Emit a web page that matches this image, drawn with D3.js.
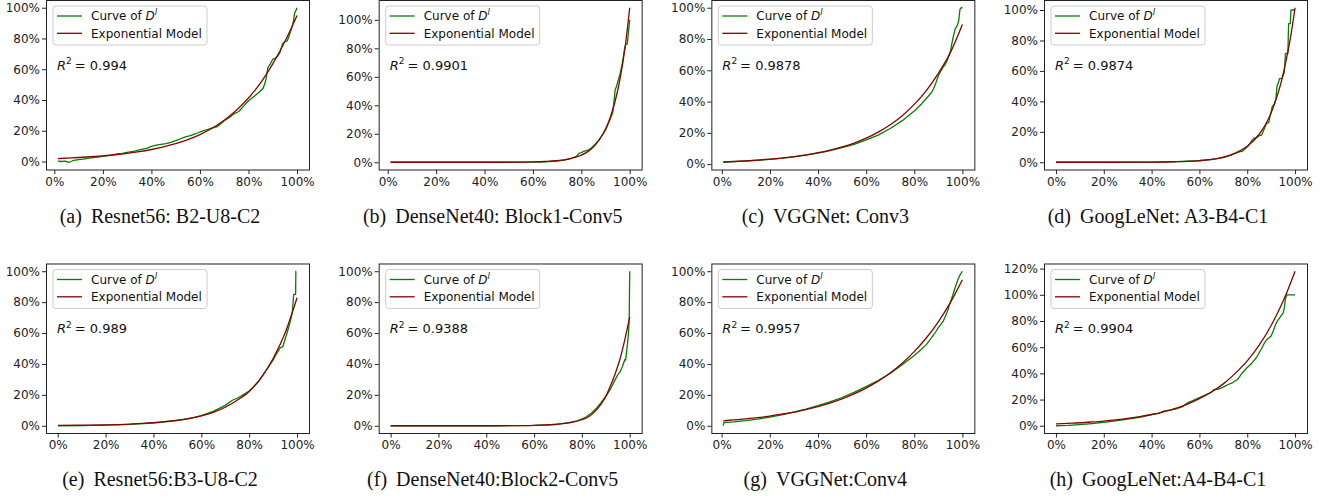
<!DOCTYPE html>
<html>
  <head>
    <meta charset="utf-8">
    <script src="https://cdn.jsdelivr.net/npm/d3@7"></script>
    <title>Curves of D^l and exponential models</title>
    <style>
      html, body {
        margin: 0px;
        padding: 0px;
        overflow: hidden;
        background: #ffffff;
      }
      svg {
        display: block;
      }
      .domain {
        display: none;
      }
      .tick line {
        stroke: #222222;
        stroke-width: 1;
      }
      .tick text {
        fill: #222222;
        font-size: 12px;
        font-family: 'DejaVu Sans', sans-serif;
      }
      .legend-text, .r2-text {
        fill: #111111;
        font-family: 'DejaVu Sans', sans-serif;
      }
      .caption {
        fill: #111111;
        font-size: 20px;
        font-family: 'Liberation Serif', 'Times New Roman', serif;
      }
    </style>
  </head>
  <body>
    <svg width="1327" height="497"></svg>
    <script>
      // [x %, y %]
      const greenA = [[1.5,0.3],[3,0],[4.5,0.2],[6,-0.5],[7,0],[8,0.8],[10,1.2],[12,1.6],[15,2.3],[18,2.9],[20,3.4],[23,4.0],[26,4.9],[28,5.3],[30,5.9],[33,6.8],[36,7.9],[38,8.6],[40,9.8],[42,10.6],[44,11.2],[46,11.6],[48,12.5],[50,13.6],[52,14.8],[54,16.0],[56,16.9],[58,17.9],[60,19.2],[62,20.3],[64,21.3],[66,22.2],[67,22.6],[68,23.8],[70,26.5],[72,28.5],[74,31.0],[76,32.5],[78,36.0],[80,39.5],[82,42.0],[84,44.5],[86,47.5],[87,52.0],[88,61.0],[89,63.5],[90,66.5],[91,67.0],[92,68.5],[93,71.0],[94,76.5],[95,78.0],[96,78.5],[97,83.0],[98,88.0],[98.5,91],[99,96.5],[99.5,98],[100,100]];
      const modelA = [[1.5,1.9],[5,2.2],[10,2.6],[15,3.1],[20,3.7],[25,4.4],[30,5.3],[35,6.4],[40,7.8],[45,9.5],[50,11.6],[55,14.2],[60,17.5],[65,21.6],[70,26.8],[75,33.3],[80,41.3],[85,51.2],[90,63.5],[95,78],[100,95]];

      const greenB = [[1.2,0],[10,0],[20,0],[30,0],[40,0],[50,0],[55,0.05],[60,0.1],[65,0.3],[70,0.9],[73,1.5],[76,2.8],[78,4.2],[79,6.3],[80,6.8],[81,7.6],[82,8.2],[83,8.8],[84,9.8],[85,11.5],[86,13.3],[87,15.2],[88,17.5],[89,20.0],[90,22.5],[91,26.5],[92,30.5],[93,35.0],[93.7,46],[94,51],[94.5,53],[95,56],[95.5,59],[96,62],[97,70],[98,81],[98.5,83],[99,83],[99.5,92],[100,100]];
      const modelB = [[1.2,0],[10,0],[20,0],[30,0],[40,0],[50,0.05],[55,0.1],[60,0.25],[65,0.55],[70,1.1],[75,2.4],[78,3.8],[80,5.0],[82,6.8],[84,9.2],[86,12.6],[88,17.2],[90,23.3],[92,31.7],[94,43],[96,58.5],[98,79.5],[100,108.5]];

      const greenC = [[0.6,1.2],[5,1.6],[10,2.0],[15,2.5],[20,3.1],[25,3.8],[30,4.7],[35,5.8],[40,7.1],[45,8.7],[50,10.6],[55,12.7],[60,15.5],[65,18.6],[70,22.8],[75,27.8],[80,34.0],[83,38.5],[85,42.0],[87,45.5],[88,48.0],[89,52.0],[90,56.5],[91,59.5],[92,62.0],[93,64.0],[94,67.5],[95,72.0],[96,80.0],[97,86.5],[98,89.0],[98.5,92],[99,99],[99.5,100],[100,100]];
      const modelC = [[0.6,1.4],[5,1.7],[10,2.1],[15,2.6],[20,3.2],[25,3.9],[30,4.8],[35,5.9],[40,7.3],[45,9.0],[50,11.0],[55,13.5],[60,16.6],[65,20.5],[70,25.2],[75,31.0],[80,38.2],[85,47.0],[90,58.0],[95,71.3],[100,89.3]];

      const greenD = [[0,0],[10,0],[20,0],[30,0],[40,0.1],[50,0.4],[55,0.7],[60,1.0],[65,1.8],[70,3.0],[73,4.5],[75,5.8],[77,7.0],[78,7.2],[79,8.8],[80,10.0],[81,12.0],[82,14.5],[83,16.0],[84,16.2],[85,17.5],[86,17.8],[87,21.5],[88,25.5],[89,26.0],[89.5,30],[90,33.0],[90.5,37],[91,37.5],[91.5,39],[92,42],[92.5,50.5],[93,52],[93.5,55],[94.5,55],[95,57],[95.5,59],[96,71.5],[97,71.5],[97.3,91],[98,91],[98.3,100],[100,100]];
      const modelD = [[0,0],[10,0.01],[20,0.02],[30,0.04],[40,0.11],[50,0.35],[55,0.6],[60,1.1],[65,1.9],[70,3.4],[75,6.0],[80,10.5],[85,18.4],[88,25.8],[90,32.6],[92,41],[94,51.5],[96,65],[98,81],[100,101.5]];

      const greenE = [[0.1,0],[10,0.1],[20,0.4],[30,0.9],[40,1.8],[50,3.4],[55,4.7],[60,6.6],[65,9.3],[70,13.2],[73,16.5],[75,17.8],[78,20.5],[80,22.5],[82,25.5],[84,29.0],[86,33.5],[88,38.0],[90,42.5],[91,45.5],[92,48.0],[93,50.5],[94,51.0],[95,56.0],[96,61.0],[97,66.5],[98,73.0],[98.6,85],[99.4,85],[99.5,100],[99.6,100]];
      const modelE = [[0.1,0.2],[10,0.35],[20,0.6],[30,1.1],[40,2.0],[50,3.6],[55,4.8],[60,6.4],[65,8.7],[70,12.0],[75,16.5],[80,22.2],[85,31],[90,43.5],[95,60],[100,82.8]];

      const greenF = [[0,0],[10,0],[20,0],[30,0],[40,0],[50,0.05],[60,0.2],[65,0.5],[70,1.0],[75,2.0],[78,3.2],[80,4.4],[82,6.0],[84,8.3],[86,11.2],[88,15.0],[90,19.0],[91,21.5],[92,24.0],[93,27.0],[94,30.0],[95,33.0],[96,35.0],[97,38.5],[98,43.0],[98.3,42.5],[99,52],[99.5,60],[99.8,70],[100,100]];
      const modelF = [[0,0],[10,0],[20,0],[30,0],[40,0.01],[50,0.05],[55,0.1],[60,0.25],[65,0.55],[70,1.1],[75,2.1],[80,3.9],[83,6.0],[85,8.5],[88,14.0],[90,19.0],[92,26.0],[94,34.0],[96,43.5],[98,56],[100,70.5]];

      const greenG = [[0.7,0],[0.8,1.5],[1,2.0],[5,2.5],[10,3.3],[15,4.3],[20,5.6],[25,7.1],[30,8.8],[35,10.8],[40,13.0],[45,15.5],[50,18.3],[55,21.6],[60,25.3],[65,29.3],[70,33.8],[75,39.5],[80,45.5],[83,49.5],[85,52.5],[87,56.5],[89,61.0],[90,63.5],[91,65.5],[92,67.5],[93,71.0],[94,75.0],[95,80.0],[96,84.5],[97,89.5],[98,94.0],[99,97.5],[100,100]];
      const modelG = [[0.7,3.2],[5,3.8],[10,4.5],[15,5.3],[20,6.3],[25,7.5],[30,8.8],[35,10.5],[40,12.4],[45,14.7],[50,17.4],[55,20.6],[60,24.4],[65,28.9],[70,34.2],[75,40.5],[80,48.0],[85,56.8],[90,67.3],[95,79.7],[100,94.5]];

      const greenH = [[0,0],[5,0.3],[10,0.9],[15,1.7],[20,2.6],[25,3.7],[30,5.0],[33,5.8],[36,6.8],[40,8.6],[43,9.5],[45,11.2],[48,12.2],[50,12.8],[53,14.6],[55,17.5],[57,19.0],[60,21.5],[63,24.0],[65,25.5],[66,27.5],[68,28.0],[70,29.5],[72,31.5],[74,33.0],[76,35.5],[78,40.5],[80,44.5],[82,48.0],[84,52.5],[86,59.0],[87,62.5],[88,65.5],[89,67.0],[90,68.5],[91,73.0],[92,78.0],[93,81.0],[94,83.5],[95,86.0],[95.5,90],[96,97],[96.5,100],[100,100]];
      const modelH = [[0,1.5],[5,1.9],[10,2.3],[15,2.9],[20,3.6],[25,4.5],[30,5.6],[35,7.0],[40,8.6],[45,10.7],[50,13.3],[55,16.6],[60,20.7],[65,25.8],[70,32],[75,40],[80,49.5],[85,61.5],[90,76.6],[95,95],[100,118]];

      const greenCurves = [greenA, greenB, greenC, greenD, greenE, greenF, greenG, greenH];
      const modelCurves = [modelA, modelB, modelC, modelD, modelE, modelF, modelG, modelH];
      const r2Values = ['0.994', '0.9901', '0.9878', '0.9874', '0.989', '0.9388', '0.9957', '0.9904'];
      const captionTags = ['(a)', '(b)', '(c)', '(d)', '(e)', '(f)', '(g)', '(h)'];
      const captionNames = [
        'Resnet56: B2-U8-C2', 'DenseNet40: Block1-Conv5', 'VGGNet: Conv3', 'GoogLeNet: A3-B4-C1',
        'Resnet56:B3-U8-C2', 'DenseNet40:Block2-Conv5', 'VGGNet:Conv4', 'GoogLeNet:A4-B4-C1'
      ];
      const xTickValues = [0, 20, 40, 60, 80, 100];
      const yTickValues = [0, 20, 40, 60, 80, 100, 120];

      const greenColor = '#008000';
      const redColor = '#8b0000';
      const innerWidth = 263;
      const innerHeight = 170;
      const colStep = 332.67;
      const rowStep = 263.5;

      const svg = d3.select('svg');

      // matplotlib style autoscale: data extent plus 5% on each side
      const padded = vals => {
        const [lo, hi] = d3.extent(vals);
        const m = (hi - lo) * 0.05;
        return [lo - m, hi + m];
      };

      greenCurves.forEach((green, i) => {
        const model = modelCurves[i];
        const left = 46 + (i % 4) * colStep;
        const top = Math.floor(i / 4) * rowStep;
        const all = green.concat(model);

        const xScale = d3.scaleLinear()
          .domain(padded(all.map(d => d[0])))
          .range([0, innerWidth]);
        const yScale = d3.scaleLinear()
          .domain(padded(all.map(d => d[1])))
          .range([innerHeight, 0]);

        const g = svg.append('g')
          .attr('transform', `translate(${left},${top})`);

        const xAxis = d3.axisBottom(xScale)
          .tickValues(xTickValues)
          .tickFormat(d => d + '%')
          .tickSize(4)
          .tickPadding(3);
        const yTicks = yTickValues.filter(v => v <= yScale.domain()[1]);
        const yAxis = d3.axisLeft(yScale)
          .tickValues(yTicks)
          .tickFormat(d => d + '%')
          .tickSize(4)
          .tickPadding(2);

        g.append('g')
          .attr('transform', `translate(0,${innerHeight})`)
          .call(xAxis);
        g.append('g').call(yAxis);

        const line = d3.line()
          .x(d => xScale(d[0]))
          .y(d => yScale(d[1]));
        const smooth = d3.line()
          .x(d => xScale(d[0]))
          .y(d => yScale(d[1]))
          .curve(d3.curveMonotoneX);

        g.append('path')
          .datum(green)
          .attr('fill', 'none')
          .attr('stroke', greenColor)
          .attr('stroke-width', 1.3)
          .attr('stroke-linejoin', 'round')
          .attr('d', line);
        g.append('path')
          .datum(model)
          .attr('fill', 'none')
          .attr('stroke', redColor)
          .attr('stroke-width', 1.3)
          .attr('d', smooth);

        // frame
        g.append('rect')
          .attr('x', 0.5)
          .attr('y', 0.5)
          .attr('width', innerWidth)
          .attr('height', innerHeight - 0.5)
          .attr('fill', 'none')
          .attr('stroke', '#222222')
          .attr('stroke-width', 1);

        // legend
        const lg = g.append('g').attr('transform', 'translate(7,6)');
        lg.append('rect')
          .attr('width', 154)
          .attr('height', 39)
          .attr('rx', 3)
          .attr('fill', 'white')
          .attr('fill-opacity', 0.8)
          .attr('stroke', '#cccccc');
        [greenColor, redColor].forEach((c, k) => {
          lg.append('line')
            .attr('x1', 4).attr('x2', 29)
            .attr('y1', 10 + k * 17.3).attr('y2', 10 + k * 17.3)
            .attr('stroke', c)
            .attr('stroke-width', 1.3);
        });
        const t1 = lg.append('text')
          .attr('class', 'legend-text')
          .attr('x', 38)
          .attr('y', 14.3)
          .style('font-size', '12px');
        t1.append('tspan').text('Curve of ');
        t1.append('tspan').style('font-style', 'italic').text('D');
        t1.append('tspan').style('font-style', 'italic').style('font-size', '8.5px')
          .attr('dy', -5).text('l');
        lg.append('text')
          .attr('class', 'legend-text')
          .attr('x', 38)
          .attr('y', 31.6)
          .style('font-size', '12px')
          .text('Exponential Model');

        // R^2 annotation
        const r2 = g.append('text')
          .attr('class', 'r2-text')
          .attr('x', 11)
          .attr('y', 69.5)
          .style('font-size', '13px');
        r2.append('tspan').style('font-style', 'italic').text('R');
        r2.append('tspan').style('font-size', '9px').attr('dy', -5.5).text('2');
        r2.append('tspan').attr('dy', 5.5).attr('dx', 3).text('= ' + r2Values[i]);

        // caption: tag and name, with a wider gap between them
        const cap = svg.append('text')
          .attr('class', 'caption')
          .attr('x', left + 114)
          .attr('y', top + 222.5)
          .attr('text-anchor', 'middle');
        cap.append('tspan').text(captionTags[i]);
        cap.append('tspan').attr('dx', 9).text(captionNames[i]);
      });
    </script>
  </body>
</html>
